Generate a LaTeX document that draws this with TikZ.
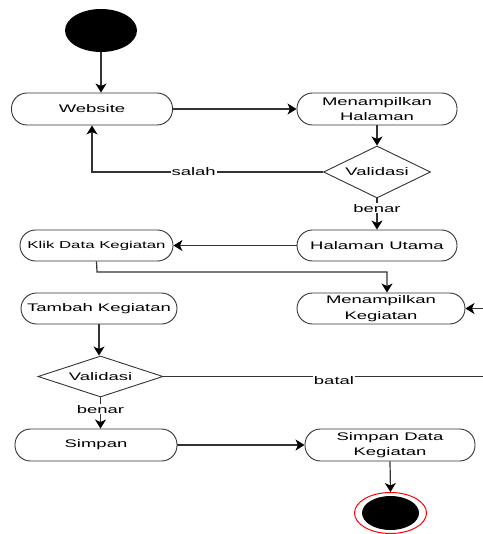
\documentclass[tikz,border=0pt]{standalone}
\usepackage{fontspec}
\setmainfont[FakeStretch=1.68]{Liberation Sans}
\usetikzlibrary{shapes.geometric,arrows.meta}
\begin{document}
\begin{tikzpicture}[x=1pt,y=-1pt,
  act/.style={draw=black!80, line width=0.9pt, rounded corners=15.5pt,
    minimum height=31pt, inner sep=0pt, align=center,
    font=\fontsize{11}{15.5}\selectfont},
  decision/.style={draw=black!80, line width=0.9pt, diamond, inner sep=0pt,
    label={[font=\fontsize{11}{13}\selectfont]center:#1}},
  flow/.style={draw=black!80, line width=1.2pt,
    -{Stealth[length=9pt,width=11pt,inset=2.5pt,black]}},
  guard/.style={fill=white, inner sep=1pt, font=\fontsize{11}{13}\selectfont}]
\useasboundingbox (0,0) rectangle (482,534);

% start and end states
\node[ellipse, fill=black, minimum width=72pt, minimum height=43pt, inner sep=0pt] (start) at (101,30.5) {};
\node[ellipse, draw=red, line width=1pt, minimum width=72pt, minimum height=41pt, inner sep=0pt] (end) at (390.5,513) {};
\node[ellipse, fill=black, minimum width=57pt, minimum height=34pt, inner sep=0pt] (endcore) at (end.center) {};

% activities and decisions
\node[act, minimum width=161pt, minimum height=32pt] (web) at (92,109) {Website};
\node[act, minimum width=160pt, minimum height=32pt] (mh) at (377,109) {Menampilkan\\Halaman};
\node[decision=Validasi, minimum width=107pt, minimum height=52pt] (val1) at (377,172) {};
\node[act, minimum width=160pt] (hu) at (377,245.5) {Halaman Utama};
\node[act, minimum width=153pt, font=\fontsize{10}{13}\selectfont] (klik) at (96.5,245.5) {Klik Data Kegiatan};
\node[act, minimum width=168pt] (mk) at (381,308.5) {Menampilkan\\Kegiatan};
\node[act, minimum width=156pt] (tk) at (99,308.5) {Tambah Kegiatan};
\node[decision=Validasi, minimum width=125pt, minimum height=41pt] (val2) at (100.5,376.5) {};
\node[act, minimum width=162pt, minimum height=32pt] (simpan) at (96,445) {Simpan};
\node[act, minimum width=170pt, minimum height=32pt] (sdk) at (390,445) {Simpan Data\\Kegiatan};

% bend points of the long connectors
\coordinate (klikdown) at (97,272);
\coordinate (batalout) at (500,376.5);

% transitions
\draw[flow] (start.south) -- (start.south |- web.north);
\draw[flow] (web.east) -- (mh.west);
\draw[flow] (mh.south) -- (val1.north);
\draw[flow] (val1.west) -| node[guard, pos=0.28] (salah) {salah} (web.south);
\draw[flow] (val1.south) -- node[guard, pos=0.32] (benar1) {benar} (hu.north);
\draw[flow] (hu.west) -- (klik.east);
\draw[flow] (klik.south) -- (klikdown) -| ([xshift=6pt]mk.north);
\draw[flow] (tk.south) -- (tk.south |- val2.north);
\draw[flow] (val2.east) -- (batalout) |- (mk.east);
\node[guard] (batal) at (334,381) {batal};
\draw[flow] (val2.south) -- node[guard, pos=0.38] (benar2) {benar} (val2.south |- simpan.north);
\draw[flow] (simpan.east) -- (sdk.west);
\draw[flow] (sdk.south) -- (end.north);
\end{tikzpicture}
\end{document}
